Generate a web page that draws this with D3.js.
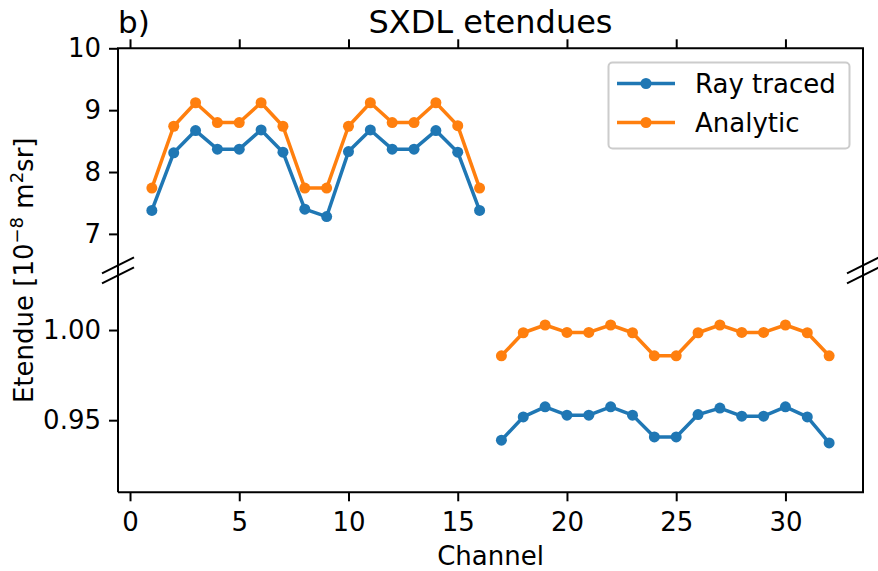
<!DOCTYPE html>
<html>
<head>
<meta charset="utf-8">
<script src="https://cdn.jsdelivr.net/npm/d3@7"></script>
<style>
  body { margin: 0; background: #fff; }
  text { font-family: "DejaVu Sans", sans-serif; fill: #000; }
</style>
</head>
<body>
<svg id="chart" width="878" height="571"></svg>
<script>
// channels 1-16 live in the upper (x1e-8) panel, 17-32 in the lower one
var chTop = d3.range(1, 17),
    chBot = d3.range(17, 33);

var rayTop = [7.38, 8.31, 8.67, 8.37, 8.37, 8.68, 8.32, 7.40, 7.28, 8.33, 8.68, 8.37, 8.37, 8.67, 8.32, 7.38];
var anaTop = [7.74, 8.74, 9.12, 8.80, 8.80, 9.12, 8.74, 7.74, 7.74, 8.74, 9.12, 8.80, 8.80, 9.12, 8.75, 7.74];

var rayBot = [0.9389, 0.9518, 0.9574, 0.9528, 0.9528, 0.9574, 0.9528, 0.9407,
              0.9407, 0.9531, 0.9567, 0.9522, 0.9522, 0.9574, 0.9518, 0.9374];
var anaBot = [0.9857, 0.9985, 1.0028, 0.9987, 0.9987, 1.0028, 0.9985, 0.9857,
              0.9857, 0.9985, 1.0028, 0.9987, 0.9987, 1.0028, 0.9985, 0.9857];

var xTicks = [0, 5, 10, 15, 20, 25, 30],
    yTopTicks = [7, 8, 9, 10],
    yBotTicks = [0.95, 1.00];

var seriesNames = ["Ray traced", "Analytic"],
    colors = ["#1f77b4", "#ff7f0e"];

var svg = d3.select("#chart");

var left = 118, right = 863,
    top1 = 48.3, bot1 = 271,
    top2 = 270, bot2 = 492.3;

var x = d3.scaleLinear().domain([-0.55, 33.55]).range([left, right]);
var yTop = d3.scaleLinear().domain([6.4, 10]).range([bot1, top1]);
var yBot = d3.scaleLinear().domain([0.91, 1.0333]).range([bot2, top2]);

var tickLen = 9, spineW = 2, fs = "26px";

// x axis at the bottom
var gx = svg.append("g")
    .attr("transform", "translate(0," + bot2 + ")")
    .call(d3.axisBottom(x).tickValues(xTicks).tickSize(tickLen).tickPadding(11).tickFormat(d3.format("d")));

// top x ticks without labels
var gxt = svg.append("g")
    .attr("transform", "translate(0," + top1 + ")")
    .call(d3.axisTop(x).tickValues(xTicks).tickSize(tickLen).tickFormat(""));

var gyt = svg.append("g")
    .attr("transform", "translate(" + left + ",0)")
    .call(d3.axisLeft(yTop).tickValues(yTopTicks).tickSize(tickLen).tickPadding(8).tickFormat(d3.format("d")));

var gyb = svg.append("g")
    .attr("transform", "translate(" + left + ",0)")
    .call(d3.axisLeft(yBot).tickValues(yBotTicks).tickSize(tickLen).tickPadding(8).tickFormat(d3.format(".2f")));

[gx, gxt, gyt, gyb].forEach(function (g) {
    g.select(".domain").remove();
    g.selectAll(".tick line").attr("stroke", "#000").attr("stroke-width", spineW);
    g.selectAll(".tick text").style("font-size", fs).attr("fill", "#000");
});

// spines
var spines = svg.append("g").attr("stroke", "#000").attr("stroke-width", spineW).attr("fill", "none");
spines.append("path").attr("d", "M" + left + "," + bot2 + "V" + top1 + "H" + right + "V" + bot2 + "H" + left)
    .attr("stroke-linejoin", "miter");

// break marks
[[left, 265.3], [left, 275.3], [right, 265.3], [right, 275.3]].forEach(function (p) {
    spines.append("line")
        .attr("x1", p[0] - 16).attr("y1", p[1] + 8)
        .attr("x2", p[0] + 16).attr("y2", p[1] - 8)
        .attr("stroke-width", 2);
});

function drawSeries(chs, vals, y, color) {
    var pts = chs.map(function (c, i) { return [c, vals[i]]; });
    var line = d3.line()
        .x(function (d) { return x(d[0]); })
        .y(function (d) { return y(d[1]); });
    svg.append("path")
        .datum(pts)
        .attr("d", line)
        .attr("fill", "none")
        .attr("stroke", color)
        .attr("stroke-width", 3.5)
        .attr("stroke-linejoin", "round");
    svg.append("g").selectAll("circle")
        .data(pts)
        .enter().append("circle")
        .attr("cx", function (d) { return x(d[0]); })
        .attr("cy", function (d) { return y(d[1]); })
        .attr("r", 5.5)
        .attr("fill", color);
}

drawSeries(chTop, rayTop, yTop, colors[0]);
drawSeries(chTop, anaTop, yTop, colors[1]);
drawSeries(chBot, rayBot, yBot, colors[0]);
drawSeries(chBot, anaBot, yBot, colors[1]);

// legend
var lg = svg.append("g");
lg.append("rect")
    .attr("x", 608.5).attr("y", 62.5).attr("width", 241).attr("height", 86)
    .attr("rx", 4).attr("fill", "#fff").attr("fill-opacity", 0.8)
    .attr("stroke", "#cccccc").attr("stroke-width", 2);
seriesNames.forEach(function (name, i) {
    var yy = 83.5 + i * 39;
    lg.append("line").attr("x1", 617).attr("x2", 675).attr("y1", yy).attr("y2", yy)
        .attr("stroke", colors[i]).attr("stroke-width", 3.5);
    lg.append("circle").attr("cx", 646).attr("cy", yy).attr("r", 5.5).attr("fill", colors[i]);
    lg.append("text").attr("x", 695).attr("y", yy + 9.5).style("font-size", fs).text(name);
});

// titles and labels
svg.append("text").attr("x", (left + right) / 2).attr("y", 33)
    .attr("text-anchor", "middle").style("font-size", "32px").text("SXDL etendues");
svg.append("text").attr("x", left).attr("y", 33)
    .style("font-size", "31px").text("b)");

svg.append("text").attr("x", (left + right) / 2).attr("y", 565)
    .attr("text-anchor", "middle").style("font-size", fs).text("Channel");

var yl = svg.append("text")
    .attr("transform", "translate(33," + ((top1 + bot2) / 2) + ") rotate(-90)")
    .attr("text-anchor", "middle").style("font-size", fs);
yl.append("tspan").text("Etendue [10");
yl.append("tspan").attr("baseline-shift", "super").style("font-size", "18px").text("\u22128");
yl.append("tspan").text(" m");
yl.append("tspan").attr("baseline-shift", "super").style("font-size", "18px").text("2");
yl.append("tspan").text("sr]");
</script>
</body>
</html>
